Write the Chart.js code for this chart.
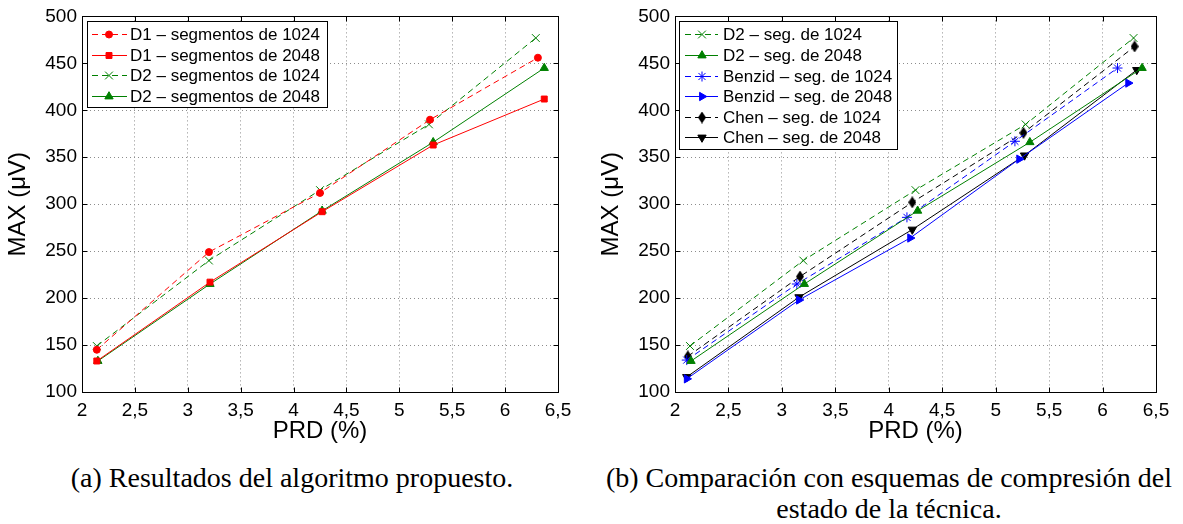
<!DOCTYPE html>
<html><head><meta charset="utf-8">
<script src="https://cdn.jsdelivr.net/npm/chart.js@4.4.0/dist/chart.umd.min.js"></script>
<style>
body{margin:0;background:#fff;width:1183px;height:524px;overflow:hidden;position:relative;font-family:"Liberation Sans",Arial,sans-serif}
.cw{position:absolute;top:0}
.cap{position:absolute;font-family:"Liberation Serif",serif;font-size:28px;color:#000;text-align:center;white-space:nowrap;line-height:31px}
</style></head><body>
<div class="cw" style="left:0"><canvas id="ca" width="600" height="446"></canvas></div>
<div class="cw" style="left:593px"><canvas id="cb" width="590" height="446"></canvas></div>
<div class="cap" style="left:0;width:584px;top:462px">(a) Resultados del algoritmo propuesto.</div>
<div class="cap" style="left:600px;width:578px;top:462px">(b) Comparación con esquemas de compresión del<br>estado de la técnica.</div>
<script>
// ---- data ----
const xTickValues = [2, 2.5, 3, 3.5, 4, 4.5, 5, 5.5, 6, 6.5];
const xTickLabels = ['2', '2,5', '3', '3,5', '4', '4,5', '5', '5,5', '6', '6,5'];
const yTickValues = [100, 150, 200, 250, 300, 350, 400, 450, 500];
const yTickLabels = ['100', '150', '200', '250', '300', '350', '400', '450', '500'];

const d1s1024Prd = [2.14, 3.20, 4.25, 5.29, 6.31];
const d1s1024Max = [145, 249, 312, 390, 456];
const d1s2048Prd = [2.14, 3.21, 4.27, 5.32, 6.37];
const d1s2048Max = [133, 217, 292, 363, 412];
const d2s1024Prd = [2.14, 3.20, 4.25, 5.28, 6.29];
const d2s1024Max = [149, 240, 315, 385, 477];
const d2s2048Prd = [2.15, 3.21, 4.27, 5.32, 6.37];
const d2s2048Max = [133, 215, 293, 366, 445];
const benzid1024Prd = [2.11, 3.14, 4.17, 5.18, 6.14];
const benzid1024Max = [134, 215, 286, 367, 445];
const benzid2048Prd = [2.11, 3.16, 4.20, 5.22, 6.24];
const benzid2048Max = [114, 198, 264, 348, 429];
const chen1024Prd = [2.12, 3.17, 4.22, 5.26, 6.30];
const chen1024Max = [138, 223, 302, 376, 468];
const chen2048Prd = [2.11, 3.16, 4.22, 5.27, 6.32];
const chen2048Max = [116, 201, 273, 352, 443];

const labelsA = ['D1 – segmentos de 1024', 'D1 – segmentos de 2048', 'D2 – segmentos de 1024', 'D2 – segmentos de 2048'];
const labelsB = ['D2 – seg. de 1024', 'D2 – seg. de 2048', 'Benzid – seg. de 1024', 'Benzid – seg. de 2048', 'Chen – seg. de 1024', 'Chen – seg. de 2048'];

// ---- styling ----
const FONT = '"Liberation Sans", Arial, sans-serif';
Chart.defaults.font.family = FONT;
Chart.defaults.color = '#000';
const RED = '#ff0000', GREEN = '#008000', BLUE = '#0000ff', BLACK = '#000000';
const DASH = [6, 4];

const diamond = document.createElement('canvas');
diamond.width = 8; diamond.height = 12;
(function(){ const c = diamond.getContext('2d'); c.fillStyle = '#000'; c.beginPath();
  c.moveTo(4, 0); c.lineTo(8, 6); c.lineTo(4, 12); c.lineTo(0, 6); c.closePath(); c.fill(); })();

function pts(xs, ys) { return xs.map((x, i) => ({x: x, y: ys[i]})); }
function ds(label, xs, ys, color, dashed, style, radius, rot) {
  return {
    label: label, data: pts(xs, ys), showLine: true,
    borderColor: color, backgroundColor: color, borderWidth: 1,
    borderDash: dashed ? DASH : [],
    pointStyle: style, pointRadius: radius, pointHoverRadius: radius,
    pointRotation: rot || 0, pointBorderWidth: 1,
    pointBorderColor: color, pointBackgroundColor: color
  };
}

function drawMarker(ctx, d, x, y) {
  const opt = {pointStyle: d.pointStyle, rotation: d.pointRotation, radius: d.pointRadius, borderWidth: 1};
  ctx.save();
  ctx.setLineDash([]);
  ctx.strokeStyle = d.pointBorderColor; ctx.fillStyle = d.pointBackgroundColor; ctx.lineWidth = 1;
  Chart.helpers.drawPoint(ctx, opt, x, y);
  ctx.restore();
}

const framePlugin = {
  id: 'frame',
  afterDraw(chart, args, o) {
    const ctx = chart.ctx, a = chart.chartArea;
    const xs = chart.scales.x, ys = chart.scales.y;
    ctx.save();
    ctx.strokeStyle = '#000'; ctx.lineWidth = 1; ctx.setLineDash([]);
    const L = Math.round(a.left) + 0.5, R = Math.round(a.right) + 0.5, T = Math.round(a.top) + 0.5, B = Math.round(a.bottom) + 0.5;
    ctx.strokeRect(L, T, R - L, B - T);
    const tl = 5;
    ctx.beginPath();
    xTickValues.forEach(v => { const px = Math.round(xs.getPixelForValue(v)) + 0.5;
      ctx.moveTo(px, B); ctx.lineTo(px, B - tl); ctx.moveTo(px, T); ctx.lineTo(px, T + tl); });
    yTickValues.forEach(v => { const py = Math.round(ys.getPixelForValue(v)) + 0.5;
      ctx.moveTo(L, py); ctx.lineTo(L + tl, py); ctx.moveTo(R, py); ctx.lineTo(R - tl, py); });
    ctx.stroke();
    // legend
    const lg = o;
    const bx = a.left + lg.dx, by = a.top + lg.dy;
    ctx.fillStyle = '#fff';
    ctx.fillRect(bx, by, lg.w, lg.h);
    ctx.strokeStyle = '#000';
    ctx.strokeRect(Math.round(bx) + 0.5, Math.round(by) + 0.5, lg.w, lg.h);
    ctx.font = '17px ' + FONT; ctx.textBaseline = 'middle'; ctx.textAlign = 'left';
    chart.data.datasets.forEach((d, i) => {
      const cy = Math.round(by + lg.first + i * lg.step) + 0.5;
      ctx.save();
      ctx.strokeStyle = d.borderColor; ctx.lineWidth = 1;
      ctx.setLineDash(d.borderDash.length ? d.borderDash : []);
      ctx.beginPath(); ctx.moveTo(bx + lg.l0, cy); ctx.lineTo(bx + lg.l1, cy); ctx.stroke();
      ctx.restore();
      drawMarker(ctx, d, bx + lg.m, cy);
      ctx.fillStyle = '#000';
      ctx.fillText(d.label, bx + lg.t, cy + 1);
    });
    ctx.restore();
  }
};

function makeOptions(padRight, legend) {
  return {
    responsive: false, animation: false, devicePixelRatio: 1,
    layout: {padding: {left: 0, top: 14, right: padRight, bottom: 0}},
    plugins: {legend: {display: false}, tooltip: {enabled: false}, frame: legend},
    scales: {
      x: {
        type: 'linear', min: 2, max: 6.5,
        afterFit: s => { s.height = 54; },
        afterBuildTicks: s => { s.ticks = xTickValues.map(v => ({value: v})); },
        ticks: {autoSkip: false, maxRotation: 0, padding: 7, font: {size: 19}, color: '#000',
          callback: v => { const i = xTickValues.indexOf(v); return i >= 0 ? xTickLabels[i] : ''; }},
        grid: {color: '#8c8c8c', lineWidth: 1, drawTicks: false},
        border: {display: false, dash: [1, 3]},
        title: {display: true, text: 'PRD (%)', font: {size: 24}, color: '#000', padding: {top: 0, bottom: 0}}
      },
      y: {
        type: 'linear', min: 100, max: 500,
        afterFit: s => { s.width = 82; },
        afterBuildTicks: s => { s.ticks = yTickValues.map(v => ({value: v})); },
        ticks: {autoSkip: false, padding: 5, font: {size: 19}, color: '#000',
          callback: v => { const i = yTickValues.indexOf(v); return i >= 0 ? yTickLabels[i] : ''; }},
        grid: {color: '#8c8c8c', lineWidth: 1, drawTicks: false},
        border: {display: false, dash: [1, 3]},
        title: {display: true, text: 'MAX (μV)', font: {size: 24}, color: '#000', padding: {top: 4, bottom: 0}}
      }
    }
  };
}

new Chart(document.getElementById('ca'), {
  type: 'scatter',
  data: {datasets: [
    ds(labelsA[0], d1s1024Prd, d1s1024Max, RED, true, 'circle', 3.5),
    ds(labelsA[1], d1s2048Prd, d1s2048Max, RED, false, 'rect', 4.2),
    ds(labelsA[2], d2s1024Prd, d2s1024Max, GREEN, true, 'crossRot', 5.5),
    ds(labelsA[3], d2s2048Prd, d2s2048Max, GREEN, false, 'triangle', 4.8)
  ]},
  options: makeOptions(42, {dx: 5, dy: 5, w: 240, h: 86, first: 13, step: 20.5, l0: 5, l1: 40, m: 22, t: 43}),
  plugins: [framePlugin]
});

new Chart(document.getElementById('cb'), {
  type: 'scatter',
  data: {datasets: [
    ds(labelsB[0], d2s1024Prd, d2s1024Max, GREEN, true, 'crossRot', 5.5),
    ds(labelsB[1], d2s2048Prd, d2s2048Max, GREEN, false, 'triangle', 4.8),
    ds(labelsB[2], benzid1024Prd, benzid1024Max, BLUE, true, 'star', 5),
    ds(labelsB[3], benzid2048Prd, benzid2048Max, BLUE, false, 'triangle', 4.8, 90),
    ds(labelsB[4], chen1024Prd, chen1024Max, BLACK, true, diamond, 5),
    ds(labelsB[5], chen2048Prd, chen2048Max, BLACK, false, 'triangle', 4.8, 180)
  ]},
  options: makeOptions(27, {dx: 4, dy: 5, w: 218, h: 128, first: 13, step: 20.6, l0: 6, l1: 39, m: 23, t: 44}),
  plugins: [framePlugin]
});
</script>
</body></html>
